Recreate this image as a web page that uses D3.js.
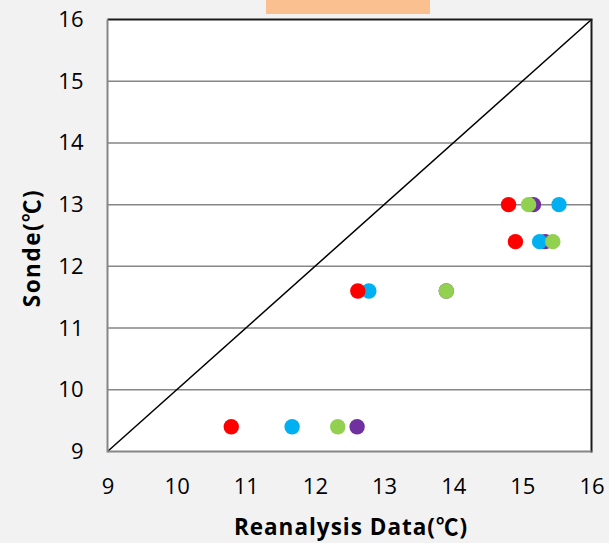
<!DOCTYPE html>
<html>
<head>
<meta charset="utf-8">
<script src="https://cdn.jsdelivr.net/npm/d3@7"></script>
<style>
  html, body { margin: 0; padding: 0; background: #f2f2f2; }
  svg { display: block; }
</style>
</head>
<body>
<svg id="chart" width="609" height="543"></svg>
<script>
// Sonde vs reanalysis temperatures, one series per reanalysis product
const xTicks = [9, 10, 11, 12, 13, 14, 15, 16];
const yTicks = [9, 10, 11, 12, 13, 14, 15, 16];
const sondeValues = [9.4, 11.6, 12.4, 13.0];

// Series are listed in drawing order (later ones sit on top)
const purpleX = [12.61, 13.90, 15.33, 15.16];
const blueX   = [11.67, 12.78, 15.25, 15.53];
const redX    = [10.79, 12.62, 14.90, 14.80];
const greenX  = [12.33, 13.90, 15.44, 15.09];

const seriesNames  = ["purple", "blue", "red", "green"];
const seriesColors = ["#7030a0", "#00b0f0", "#ff0000", "#92d050"];
const seriesX      = [purpleX, blueX, redX, greenX];

const svg = d3.select("#chart");
const plotL = 107.5, plotR = 591.5, plotT = 19.5, plotB = 451.5;

const x = d3.scaleLinear().domain([9, 16]).range([plotL, plotR]);
const y = d3.scaleLinear().domain([9, 16]).range([plotB, plotT]);

// header band
svg.append("rect")
  .attr("x", 266).attr("y", 0).attr("width", 164).attr("height", 14)
  .attr("fill", "#fac090");

// plot area
svg.append("rect")
  .attr("x", plotL).attr("y", plotT)
  .attr("width", plotR - plotL).attr("height", plotB - plotT)
  .attr("fill", "#ffffff");

// horizontal gridlines
svg.append("g")
  .selectAll("line")
  .data(yTicks.filter(d => d > 9 && d < 16))
  .join("line")
  .attr("x1", plotL).attr("x2", plotR)
  .attr("y1", d => y(d)).attr("y2", d => y(d))
  .attr("stroke", "#868686").attr("stroke-width", 1.5);

// 1:1 reference line
svg.append("line")
  .attr("x1", x(9)).attr("y1", y(9))
  .attr("x2", x(16)).attr("y2", y(16))
  .attr("stroke", "#000").attr("stroke-width", 1.5);

// frame: top/right dark, axis sides grey
svg.append("line").attr("x1", plotL).attr("x2", plotR + 1).attr("y1", plotT).attr("y2", plotT)
  .attr("stroke", "#1a1a1a").attr("stroke-width", 2);
svg.append("line").attr("x1", plotR).attr("x2", plotR).attr("y1", plotT).attr("y2", plotB + 1)
  .attr("stroke", "#1a1a1a").attr("stroke-width", 2);
svg.append("line").attr("x1", plotL).attr("x2", plotL).attr("y1", plotT).attr("y2", plotB + 1)
  .attr("stroke", "#868686").attr("stroke-width", 2);
svg.append("line").attr("x1", plotL).attr("x2", plotR).attr("y1", plotB).attr("y2", plotB)
  .attr("stroke", "#868686").attr("stroke-width", 2);

// axes (labels only, ticks hidden)
const fontFam = "'Open Sans', 'Noto Sans', sans-serif";
const cjkFam = "'Noto Sans CJK JP', 'Noto Sans CJK SC', sans-serif";
const xAxis = svg.append("g")
  .attr("transform", `translate(0,${plotB + 27})`)
  .call(d3.axisBottom(x).tickValues(xTicks).tickSize(0).tickPadding(0).tickFormat(d3.format("d")));
xAxis.select(".domain").remove();
xAxis.selectAll("text")
  .attr("font-family", fontFam).attr("font-size", 22).attr("fill", "#000")
  .attr("dy", "0.71em");

const yAxis = svg.append("g")
  .attr("transform", `translate(${plotL - 24},0)`)
  .call(d3.axisLeft(y).tickValues(yTicks).tickSize(0).tickPadding(0).tickFormat(d3.format("d")));
yAxis.select(".domain").remove();
yAxis.selectAll("text")
  .attr("font-family", fontFam).attr("font-size", 22).attr("fill", "#000");

// axis titles; the degree sign uses a full-width CJK glyph
const xTitle = svg.append("text")
  .attr("x", 351).attr("y", 535)
  .attr("text-anchor", "middle")
  .attr("letter-spacing", 1)
  .attr("font-family", fontFam).attr("font-weight", "bold").attr("font-size", 22.5);
xTitle.append("tspan").text("Reanalysis Data(");
xTitle.append("tspan").attr("font-family", cjkFam).text("℃");
xTitle.append("tspan").text(")");

const yTitle = svg.append("text")
  .attr("transform", "translate(40,248) rotate(-90)")
  .attr("text-anchor", "middle")
  .attr("letter-spacing", 1.5)
  .attr("font-family", fontFam).attr("font-weight", "bold").attr("font-size", 22.5);
yTitle.append("tspan").text("Sonde(");
yTitle.append("tspan").attr("font-family", cjkFam).text("℃");
yTitle.append("tspan").text(")");

// points
seriesNames.forEach((name, i) => {
  svg.append("g")
    .attr("class", "series-" + name)
    .selectAll("circle")
    .data(seriesX[i].map((v, j) => ({ x: v, y: sondeValues[j] })))
    .join("circle")
    .attr("cx", d => x(d.x))
    .attr("cy", d => y(d.y))
    .attr("r", 7.7)
    .attr("fill", seriesColors[i]);
});
</script>
</body>
</html>
